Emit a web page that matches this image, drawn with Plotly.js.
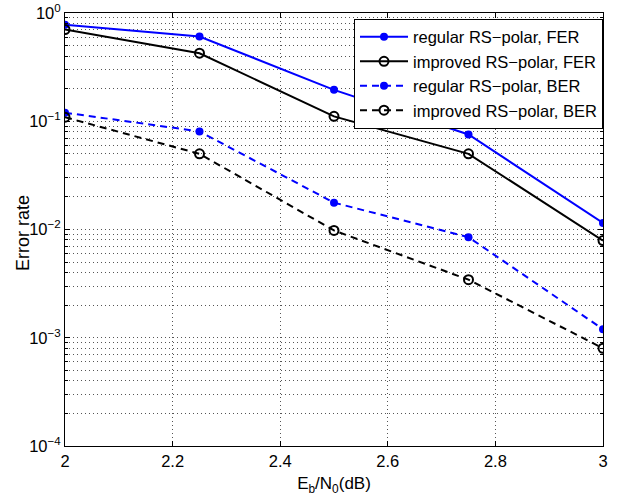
<!DOCTYPE html>
<html><head><meta charset="utf-8">
<script src="https://cdn.plot.ly/plotly-3.0.1.min.js"></script>
<style>html,body{margin:0;padding:0;background:#fff}#c{width:618px;height:500px}</style>
</head><body><div id="c"></div>
<script>
const ebn0 = [2, 2.25, 2.5, 2.75, 3];
const regularFER = [0.78, 0.607, 0.195, 0.0755, 0.0115];
const improvedFER = [0.704, 0.425, 0.111, 0.050, 0.0079];
const regularBER = [0.12, 0.0805, 0.0177, 0.0085, 0.0012];
const improvedBER = [0.109, 0.050, 0.0098, 0.00344, 0.0008];
const seriesNames = ['regular RS\u2212polar, FER','improved RS\u2212polar, FER','regular RS\u2212polar, BER','improved RS\u2212polar, BER'];
const yTickVals = [1e-4, 1e-3, 1e-2, 1e-1, 1];
const yTickText = ['10<sup>\u22124</sup>','10<sup>\u22123</sup>','10<sup>\u22122</sup>','10<sup>\u22121</sup>','10<sup>0</sup>'];
const xTickVals = [2, 2.2, 2.4, 2.6, 2.8, 3];
const xTickText = ['2','2.2','2.4','2.6','2.8','3'];
const xTitle = 'E<sub>b</sub>/N<sub>0</sub>(dB)';
const yTitle = 'Error rate';
const minorMultipliers = [2,3,4,5,6,7,8,9];
const decades = [1e-4, 1e-3, 1e-2, 1e-1];
const yMinorVals = [];
decades.forEach(d => minorMultipliers.forEach(m => yMinorVals.push(m*d)));

const blue = '#0000ff', black = '#000000';
const dashP = '7px,5px';
const grid = '#555';
const gdash = '1px,3px';
const ff = '"Liberation Sans", Arial, Helvetica, sans-serif';
const traces = [
  {x: ebn0, y: regularFER, name: seriesNames[0], mode:'lines+markers',
   line:{color:blue,width:2}, marker:{symbol:'circle',size:8,color:blue}},
  {x: ebn0, y: improvedFER, name: seriesNames[1], mode:'lines+markers',
   line:{color:black,width:2}, marker:{symbol:'circle-open',size:9,color:black,line:{width:2,color:black}}},
  {x: ebn0, y: regularBER, name: seriesNames[2], mode:'lines+markers',
   line:{color:blue,width:2,dash:dashP}, marker:{symbol:'circle',size:8,color:blue}},
  {x: ebn0, y: improvedBER, name: seriesNames[3], mode:'lines+markers',
   line:{color:black,width:2,dash:dashP}, marker:{symbol:'circle-open',size:9,color:black,line:{width:2,color:black}}},
  {x: [], y: [], yaxis:'y2', showlegend:false, hoverinfo:'skip', mode:'lines'}
];
const layout = {
  width:618, height:500,
  margin:{l:65, r:15, t:12.5, b:54.3},
  paper_bgcolor:'#fff', plot_bgcolor:'#fff',
  font: {family:ff, size:16, color:'#000'},
  showlegend:true,
  legend:{x:1, xanchor:'right', y:0.987, yanchor:'top', bgcolor:'#fff',
    bordercolor:'#000', borderwidth:1, font:{family:ff,size:16.5,color:'#000'},
    tracegroupgap:0, itemwidth:48},
  xaxis:{range:[2,3], tickvals:xTickVals, ticktext:xTickText,
    showline:true, linecolor:'#000', linewidth:1, mirror:'ticks',
    ticks:'inside', ticklen:5, tickcolor:'#000',
    showgrid:true, gridcolor:grid, griddash:gdash, gridwidth:1,
    zeroline:false, tickfont:{family:ff,size:16.5,color:'#000'},
    title:{text:xTitle, font:{family:ff,size:17,color:'#000'}, standoff:8}},
  yaxis:{type:'log', range:[-4,0], tickvals:yTickVals, ticktext:yTickText,
    showline:true, linecolor:'#000', linewidth:1, mirror:'ticks',
    ticks:'inside', ticklen:5, tickcolor:'#000',
    showgrid:true, gridcolor:grid, griddash:gdash, gridwidth:1,
    zeroline:false, tickfont:{family:ff,size:16.5,color:'#000'}},
  yaxis2:{type:'log', range:[-4,0], overlaying:'y', side:'left', tickvals:yMinorVals,
    showticklabels:false, showline:false, mirror:'ticks',
    ticks:'inside', ticklen:3, tickcolor:'#000',
    showgrid:true, gridcolor:grid, griddash:gdash, gridwidth:1, zeroline:false},
  annotations:[{text:yTitle, xref:'paper', yref:'paper', x:-0.0771, y:0.491,
    xanchor:'center', yanchor:'middle', textangle:-90, showarrow:false,
    font:{family:ff,size:18,color:'#000'}}]
};
Plotly.newPlot('c', traces, layout, {displayModeBar:false, staticPlot:true});
</script></body></html>
